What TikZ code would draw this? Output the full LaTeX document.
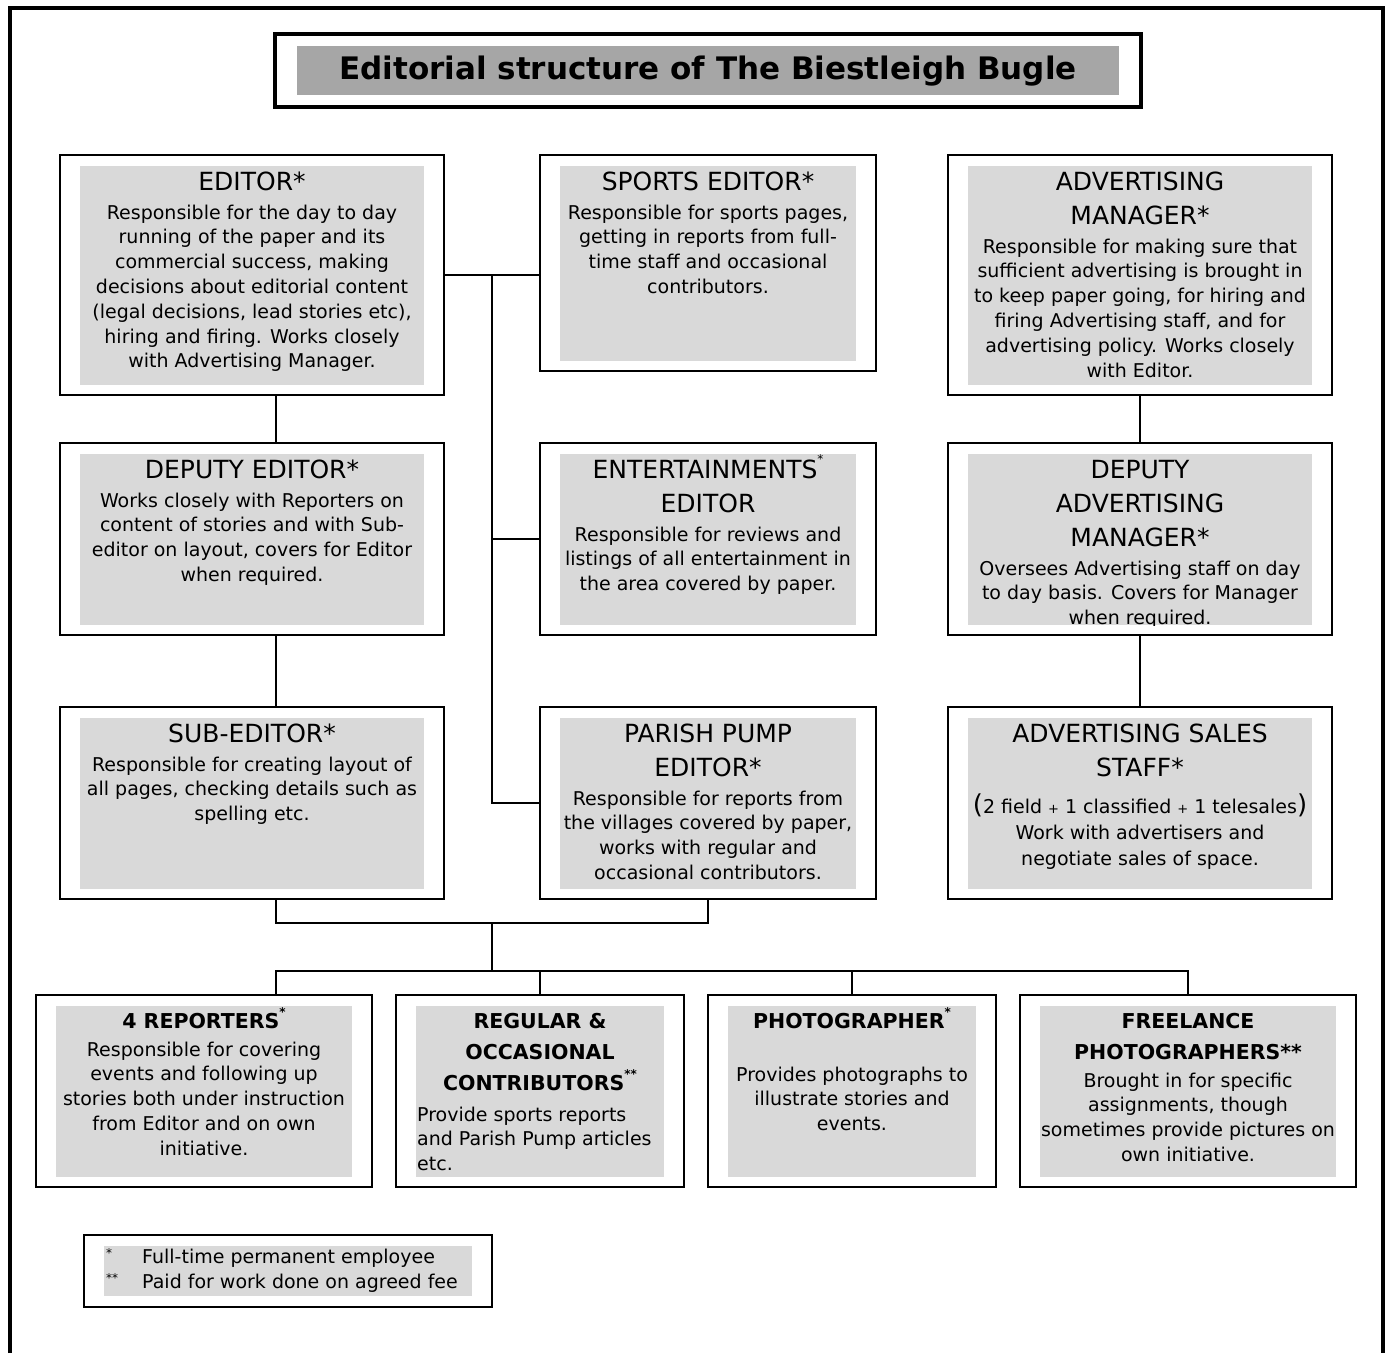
\documentclass[tikz,border=0pt]{standalone}
\usepackage{fontspec}
\setmainfont{DejaVu Sans}
\definecolor{lgray}{HTML}{D9D9D9}
\definecolor{tgray}{HTML}{A6A6A6}
\newcommand\supast[1]{\smash{\raisebox{.6em}{\fontsize{12}{12}\selectfont #1}}}
\newcommand\orgbox[5]{%
  \fill[lgray] ({#2-#4/2+20},{#3-#5/2+11}) rectangle ({#2+#4/2-20},{#3+#5/2-10});
  \node[box, minimum width=#4pt, minimum height=#5pt] (#1) at (#2,#3) {};}
\begin{document}
\begin{tikzpicture}[x=1pt,y=-1pt,
  box/.style={draw, line width=2pt, inner sep=0, outer sep=0},
  ttl/.style={align=center, inner sep=0, anchor=north, font=\fontsize{25}{34}\selectfont},
  bdy/.style={align=center, inner sep=0, anchor=north, font=\fontsize{19}{24.8}\selectfont},
  bttl/.style={align=center, inner sep=0, anchor=north, font=\bfseries\fontsize{20.5}{31}\selectfont},
  conn/.style={line width=2pt},
]
\useasboundingbox (0,0) rectangle (1389,1353);
\fill[white] (0,0) rectangle (1389,1353);
% outer frame
\draw[line width=4pt] (10,1353) |- (1383,8) -- (1383,1353);
% title
\fill[tgray] (297,46) rectangle (1119,95);
\node[draw, line width=4pt, inner sep=0, outer sep=0, minimum width=866pt, minimum height=73pt] (title) at (708,70.5) {};
\node[inner sep=0, font=\bfseries\fontsize{31}{36}\selectfont] (titletext) at (708,71) {Editorial structure of The Biestleigh Bugle};

% boxes
\orgbox{ed}{252}{275}{384}{240}
\orgbox{sp}{708}{263}{336}{216}
\orgbox{am}{1140}{275}{384}{240}
\orgbox{de}{252}{539}{384}{192}
\orgbox{en}{708}{539}{336}{192}
\orgbox{da}{1140}{539}{384}{192}
\orgbox{su}{252}{803}{384}{192}
\orgbox{pp}{708}{803}{336}{192}
\orgbox{as}{1140}{803}{384}{192}
\orgbox{re}{204}{1091}{336}{192}
\orgbox{rc}{540}{1091}{288}{192}
\orgbox{ph}{852}{1091}{288}{192}
\orgbox{fr}{1188}{1091}{336}{192}

% texts
\node[ttl] (edT) at (252,172) {EDITOR*};
\node[bdy] (edB) at (252,204.5) {Responsible for the day to day\\running of the paper and its\\commercial success, making\\decisions about editorial content\\(legal decisions, lead stories etc),\\hiring and firing. Works closely\\with Advertising Manager.};

\node[ttl] (spT) at (708,172) {SPORTS EDITOR*};
\node[bdy] (spB) at (708,204.5) {Responsible for sports pages,\\getting in reports from full-\\time staff and occasional\\contributors.};

\node[ttl] (amT) at (1140,172) {ADVERTISING\\MANAGER*};
\node[bdy] (amB) at (1140,238.5) {Responsible for making sure that\\sufficient advertising is brought in\\to keep paper going, for hiring and\\firing Advertising staff, and for\\advertising policy. Works closely\\with Editor.};

\node[ttl] (deT) at (252,460) {DEPUTY EDITOR*};
\node[bdy] (deB) at (252,492.5) {Works closely with Reporters on\\content of stories and with Sub-\\editor on layout, covers for Editor\\when required.};

\node[ttl] (enT) at (708,460) {ENTERTAINMENTS\supast{*}\\EDITOR};
\node[bdy] (enB) at (708,526.5) {Responsible for reviews and\\listings of all entertainment in\\the area covered by paper.};

\begin{scope}
\clip (968,454) rectangle (1312,625);
\node[ttl] (daT) at (1140,460) {DEPUTY\\ADVERTISING\\MANAGER*};
\node[bdy] (daB) at (1140,560.5) {Oversees Advertising staff on day\\to day basis. Covers for Manager\\when required.};
\end{scope}

\node[ttl] (suT) at (252,724) {SUB-EDITOR*};
\node[bdy] (suB) at (252,756.5) {Responsible for creating layout of\\all pages, checking details such as\\spelling etc.};

\node[ttl] (ppT) at (708,724) {PARISH PUMP\\EDITOR*};
\node[bdy] (ppB) at (708,790.5) {Responsible for reports from\\the villages covered by paper,\\works with regular and\\occasional contributors.};

\node[ttl] (asT) at (1140,724) {ADVERTISING SALES\\STAFF*};
\node[inner sep=0, font=\fontsize{19}{24}\selectfont] (asP) at (1140,805) {{\fontsize{26}{26}\selectfont(}2 field {\fontsize{13}{13}\selectfont +} 1 classified {\fontsize{13}{13}\selectfont +} 1 telesales{\fontsize{26}{26}\selectfont)}};
\node[bdy, font=\fontsize{19}{26}\selectfont] (asB) at (1140,824.5) {Work with advertisers and\\negotiate sales of space.};

\node[bttl] (reT) at (204,1013) {4 REPORTERS\supast{*}};
\node[bdy] (reB) at (204,1041.5) {Responsible for covering\\events and following up\\stories both under instruction\\from Editor and on own\\initiative.};

\node[bttl] (rcT) at (540,1013) {REGULAR \&\\OCCASIONAL\\CONTRIBUTORS\supast{**}};
\node[bdy, align=left, anchor=north west] (rcB) at (417,1106.5) {Provide sports reports\\and Parish Pump articles\\etc.};

\node[bttl] (phT) at (852,1013) {PHOTOGRAPHER\supast{*}};
\node[bdy] (phB) at (852,1066.5) {Provides photographs to\\illustrate stories and\\events.};

\node[bttl] (frT) at (1188,1013) {FREELANCE\\PHOTOGRAPHERS**};
\node[bdy] (frB) at (1188,1072.5) {Brought in for specific\\assignments, though\\sometimes provide pictures on\\own initiative.};

% connectors
\coordinate (xa) at (276,0);
\coordinate (xt) at (492,0);
\coordinate (j1) at (492,923);
\coordinate (j2) at (492,971);
\draw[conn] (ed.east) -- (ed.east -| sp.west);
\draw[conn] (ed.east -| xt) |- (en.west);
\draw[conn] (ed.east -| xt) |- (pp.west);
\draw[conn] (ed.south -| xa) -- (de.north -| xa);
\draw[conn] (de.south -| xa) -- (su.north -| xa);
\draw[conn] (su.south -| xa) |- (j1) -| (pp.south);
\draw[conn] (j1) -- (j2);
\draw[conn] (re.north -| xa) |- (j2) -| (fr.north);
\draw[conn] (rc.north) -- (rc.north |- j2);
\draw[conn] (ph.north) -- (ph.north |- j2);
\draw[conn] (am.south) -- (da.north);
\draw[conn] (da.south) -- (as.north);

% legend
\fill[lgray] (104,1246) rectangle (472,1296);
\node[box, minimum width=408pt, minimum height=72pt] (leg) at (288,1271) {};
\node[anchor=west, inner sep=0, font=\fontsize{12}{12}\selectfont] (la1) at (106,1253) {*};
\node[anchor=west, inner sep=0, font=\fontsize{12}{12}\selectfont] (la2) at (106,1278) {**};
\node[anchor=west, inner sep=0, font=\fontsize{19}{24}\selectfont] (lt1) at (142,1258) {Full-time permanent employee};
\node[anchor=west, inner sep=0, font=\fontsize{19}{24}\selectfont] (lt2) at (142,1283) {Paid for work done on agreed fee};
\end{tikzpicture}
\end{document}
